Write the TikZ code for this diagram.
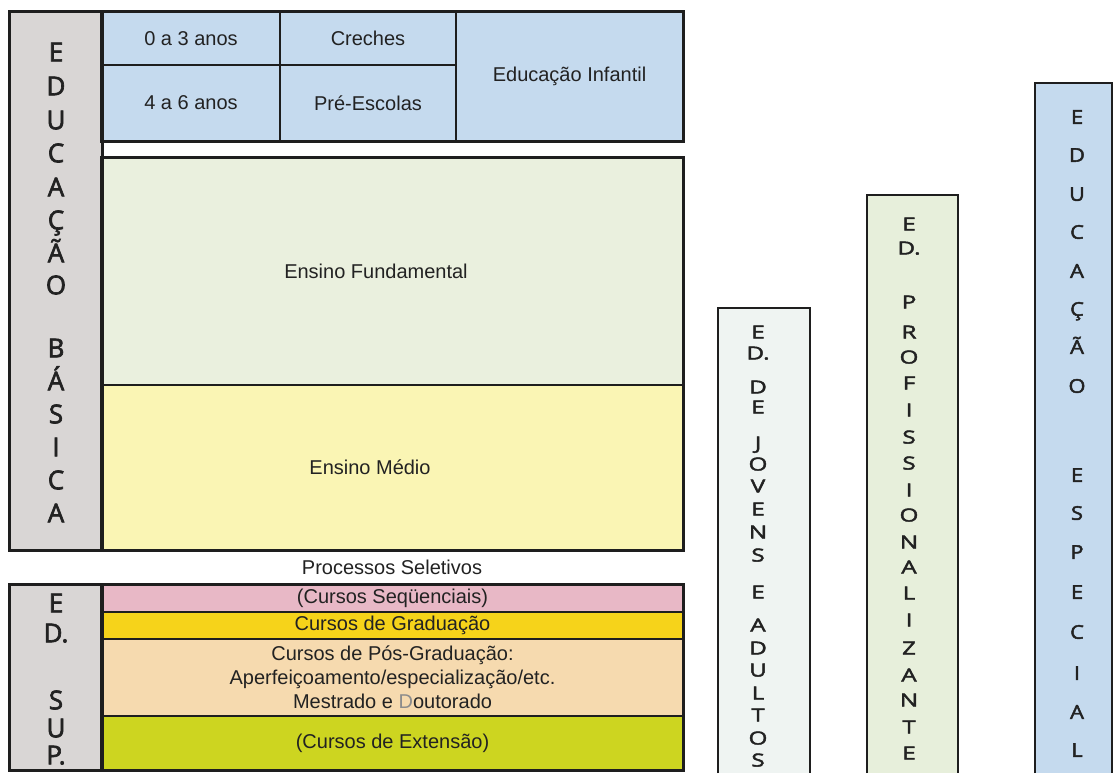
\documentclass[tikz,border=0pt]{standalone}
\usepackage{fontspec}
\setmainfont{Liberation Sans}
\newfontfamily\letterfont[FakeBold=2.5]{Open Sans}
\newfontfamily\wideletters[FakeStretch=1.35, FakeBold=2.5]{Open Sans}
\newfontfamily\specletters[FakeStretch=1.15, FakeBold=2.5]{Open Sans}
\usetikzlibrary{positioning}
\definecolor{eduGrayF}{HTML}{D9D6D5}
\definecolor{eduBlueF}{HTML}{C5DAEE}
\definecolor{eduGreenF}{HTML}{EAF0DE}
\definecolor{eduYellowF}{HTML}{FAF5B4}
\definecolor{eduPinkF}{HTML}{E8B8C6}
\definecolor{eduGoldF}{HTML}{F6D31A}
\definecolor{eduPeachF}{HTML}{F6DAAF}
\definecolor{eduOliveF}{HTML}{CDD520}
\definecolor{eduMintF}{HTML}{EFF4F2}
\definecolor{eduSageF}{HTML}{E7EFDB}
\definecolor{eduEdge}{HTML}{1E1E1E}
\definecolor{eduText}{HTML}{222222}
\tikzset{
  cell/.style={draw=eduEdge, line width=1.5pt, inner sep=0pt, align=center,
    text=eduText, font=\fontsize{20}{24}\selectfont},
  outer/.style={draw=eduEdge, line width=3pt},
  bigletter/.style={inner sep=0pt, anchor=base, yshift=-9.3pt, text=eduText,
    font=\letterfont\fontsize{26}{26}\selectfont},
  colletter/.style={inner sep=0pt, anchor=base, yshift=-6.5pt, text=eduText,
    font=\wideletters\fontsize{18}{18}\selectfont},
  specletter/.style={inner sep=0pt, anchor=base, yshift=-6.8pt, text=eduText,
    font=\specletters\fontsize{19}{19}\selectfont},
}

\begin{document}
\begin{tikzpicture}[x=1pt, y=-1pt]
  \useasboundingbox (0,0) rectangle (1115,773);

  % ---- Educacao Basica -----------------------------------------------------
  \node[cell, fill=eduGrayF, minimum width=92pt, minimum height=538pt] (bascol) at (56,281) {};

  \node[cell, fill=eduBlueF, minimum width=178pt, minimum height=53pt] (age03) at (191,38.5) {0 a 3 anos};
  \node[cell, fill=eduBlueF, minimum width=176pt, minimum height=53pt] (creches) at (368,38.5) {Creches};
  \node[cell, fill=eduBlueF, minimum width=178pt, minimum height=76pt] (age46) at (191,103) {4 a 6 anos};
  \node[cell, fill=eduBlueF, minimum width=176pt, minimum height=76pt] (preesc) at (368,103) {Pré-Escolas};
  \node[cell, fill=eduBlueF, minimum width=227pt, minimum height=129pt] (infantil) at (569.5,76.5) {Educação Infantil};

  \node[cell, fill=eduGreenF, minimum width=581pt, minimum height=227pt] (fund) at (392.5,271.5) {};
  \node[text=eduText, font=\fontsize{20}{24}\selectfont] (fundtxt) at (376,271.5) {Ensino Fundamental};
  \node[cell, fill=eduYellowF, minimum width=581pt, minimum height=165pt] (medio) at (392.5,467.5) {};
  \node[text=eduText, font=\fontsize{20}{24}\selectfont] (mediotxt) at (370,467.5) {Ensino Médio};

  % thick frames round the blocks
  \draw[outer] (bascol.north west) rectangle (bascol.south east);
  \draw[outer] (age03.north west) rectangle (infantil.south east);
  \draw[outer] (fund.north west) rectangle (medio.south east);

  \foreach \ch/\yy [count=\i] in {E/52, D/86, U/120, C/153, A/187, Ç/220, Ã/253, O/285,
      B/348, Á/381, S/414, I/447, C/480, A/513}
    \node[bigletter] (bas\i) at (56,\yy) {\ch};

  \node[text=eduText, font=\fontsize{20}{24}\selectfont] (procsel) at (392,567) {Processos Seletivos};

  % ---- Educacao Superior ---------------------------------------------------
  \node[cell, fill=eduGrayF, minimum width=92pt, minimum height=185pt] (supcol) at (56,677.5) {};
  \node[cell, fill=eduPinkF, minimum width=581pt, minimum height=27pt] (seq) at (392.5,598.5) {(Cursos Seqüenciais)};
  \node[cell, fill=eduGoldF, minimum width=581pt, minimum height=27pt] (grad) at (392.5,625.5) {Cursos de Graduação};
  \node[cell, fill=eduPeachF, minimum width=581pt, minimum height=77pt] (pos) at (392.5,677.5)
    {Cursos de Pós-Graduação:\\Aperfeiçoamento/especialização/etc.\\Mestrado e {\color{black!45}D}outorado};
  \node[cell, fill=eduOliveF, minimum width=581pt, minimum height=54pt] (ext) at (392.5,743) {(Cursos de Extensão)};

  \draw[outer] (supcol.north west) rectangle (supcol.south east);
  \draw[outer] (seq.north west) rectangle (ext.south east);

  \foreach \ch/\yy [count=\i] in {E/603, D./633, S/700, U/728, P./755}
    \node[bigletter] (sup\i) at (56,\yy) {\ch};

  % ---- Side columns (open at the bottom) -----------------------------------
  \coordinate (ejaTL) at (718,308);  \coordinate (ejaBR) at (810,773);
  \fill[eduMintF] (ejaTL) rectangle (ejaBR);
  \draw[outer, line width=2.5pt] (ejaTL |- ejaBR) -- (ejaTL) -| (ejaBR);
  \foreach \ch/\yy [count=\i] in {E/332, D./353, D/387, E/407, J/443, O/464, V/486, E/509,
      N/532, S/555, E/592, A/625, D/648, U/670, L/693, T/715, O/738, S/760}
    \node[colletter] (eja\i) at (758,\yy) {\ch};

  \coordinate (profTL) at (867,195);  \coordinate (profBR) at (958,773);
  \fill[eduSageF] (profTL) rectangle (profBR);
  \draw[outer, line width=2.5pt] (profTL |- profBR) -- (profTL) -| (profBR);
  \foreach \ch/\yy [count=\i] in {E/224, D./248, P/302, R/332, O/357, F/383, I/410, S/437,
      S/463, I/490, O/515, N/542, A/567, L/593, I/620, Z/648, A/675, N/700, T/727, E/753}
    \node[colletter] (prof\i) at (909,\yy) {\ch};

  \coordinate (espTL) at (1035,83);  \coordinate (espBR) at (1112,773);
  \fill[eduBlueF] (espTL) rectangle (espBR);
  \draw[outer, line width=2.5pt] (espTL |- espBR) -- (espTL) -| (espBR);
  \foreach \ch/\yy [count=\i] in {E/117, D/155, U/194, C/232, A/271, Ç/309, Ã/347, O/386,
      E/475, S/513, P/552, E/592, C/632, I/673, A/712, L/750}
    \node[specletter] (esp\i) at (1077,\yy) {\ch};

\end{tikzpicture}
\end{document}
